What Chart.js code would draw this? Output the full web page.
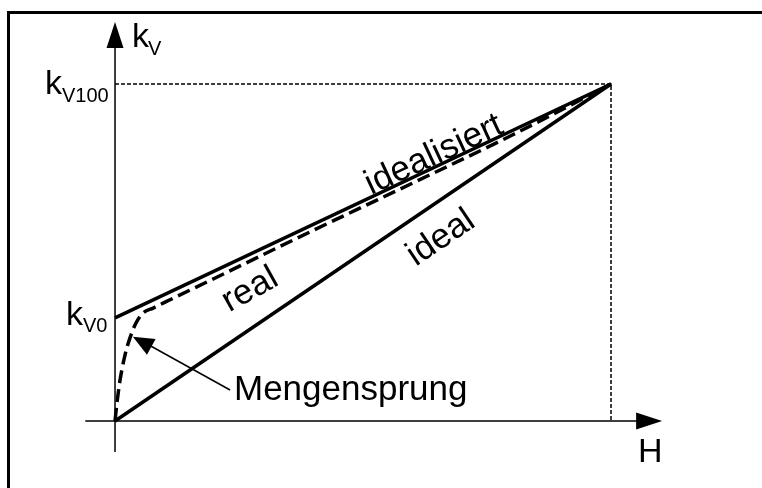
<!DOCTYPE html>
<html>
<head>
<meta charset="utf-8">
<script src="https://cdn.jsdelivr.net/npm/chart.js@4/dist/chart.umd.min.js"></script>
<style>
  html, body { margin: 0; padding: 0; background: #fff; }
  canvas { display: block; }
</style>
</head>
<body>
<canvas id="kv-chart" width="762" height="488"></canvas>
<script>
// Kennlinien kv(H) - Werte in % vom Maximum
const kv0 = 30.6;

const idealH = [0, 100];
const idealKv = [0, 100];

const idealisiertH = [0, 100];
const idealisiertKv = [kv0, 100];

const realH = [0, 0.4, 1, 2, 3, 4.2, 5.6, 7.7, 10, 20, 40, 60, 80, 100];
const realKv = [0, 5.5, 12, 19.5, 24.6, 29, 32, 33.5, 35.2, 42.3, 56.6, 70.6, 84.8, 100];

// dotted helper lines to kv100
const guideH = [0, 100, 100];
const guideKv = [100, 100, 0];

// axis extents (arrow tips)
const axisH = [-6, 110.3];
const axisKv = [-9.2, 118.4];

const FONT = '"Liberation Sans", Arial, sans-serif';

function toPoints(xs, ys) {
  return xs.map((x, i) => ({ x: x, y: ys[i] }));
}

function arrowHead(ctx, tipX, tipY, fromX, fromY, len, half) {
  const a = Math.atan2(tipY - fromY, tipX - fromX);
  ctx.beginPath();
  ctx.moveTo(tipX, tipY);
  ctx.lineTo(tipX - len * Math.cos(a) + half * Math.sin(a), tipY - len * Math.sin(a) - half * Math.cos(a));
  ctx.lineTo(tipX - len * Math.cos(a) - half * Math.sin(a), tipY - len * Math.sin(a) + half * Math.cos(a));
  ctx.closePath();
  ctx.fill();
}

function rotText(ctx, text, x, y, deg) {
  ctx.save();
  ctx.translate(x, y);
  ctx.rotate(deg * Math.PI / 180);
  ctx.fillText(text, 0, 0);
  ctx.restore();
}

const decor = {
  id: 'decor',
  beforeDatasetsDraw(chart) {
    const ctx = chart.ctx;
    const sx = chart.scales.x, sy = chart.scales.y;
    const x0 = sx.getPixelForValue(0), y0 = sy.getPixelForValue(0);
    const xTip = sx.getPixelForValue(axisH[1]);
    const yTip = sy.getPixelForValue(axisKv[1]);

    ctx.save();
    // frame (runs past the right and bottom edge)
    ctx.strokeStyle = '#000';
    ctx.lineWidth = 3;
    ctx.strokeRect(8.5, 12.5, 900, 900);

    // axes
    ctx.lineWidth = 1.5;
    ctx.beginPath();
    ctx.moveTo(sx.getPixelForValue(axisH[0]), y0);
    ctx.lineTo(xTip - 20, y0);
    ctx.moveTo(x0, sy.getPixelForValue(axisKv[0]));
    ctx.lineTo(x0, yTip + 20);
    ctx.stroke();
    ctx.fillStyle = '#000';
    arrowHead(ctx, xTip, y0, x0, y0, 26, 8.5);
    arrowHead(ctx, x0, yTip, x0, y0, 26, 8.5);
    ctx.restore();
  },
  afterDraw(chart) {
    const ctx = chart.ctx;
    const sx = chart.scales.x, sy = chart.scales.y;
    ctx.save();
    ctx.fillStyle = '#000';
    ctx.strokeStyle = '#000';

    // Mengensprung pointer
    const tipX = sx.getPixelForValue(3.6), tipY = sy.getPixelForValue(25);
    const tailX = sx.getPixelForValue(23.2), tailY = sy.getPixelForValue(9.2);
    ctx.lineWidth = 1.5;
    ctx.beginPath();
    ctx.moveTo(tailX, tailY);
    ctx.lineTo(tipX + 12, tipY + 6);
    ctx.stroke();
    arrowHead(ctx, tipX, tipY, tailX, tailY, 21, 9);

    // labels
    ctx.textBaseline = 'alphabetic';
    ctx.textAlign = 'left';
    ctx.font = '34px ' + FONT;
    ctx.fillText('k', 132, 47);
    ctx.fillText('k', 45, 94);
    ctx.fillText('k', 66, 325);
    ctx.fillText('H', 638, 462);
    ctx.font = '35px ' + FONT;
    ctx.fillText('Mengensprung', 234, 400);

    ctx.font = '20px ' + FONT;
    ctx.fillText('V', 148, 55);
    ctx.fillText('V100', 62, 102);
    ctx.fillText('V0', 83, 332);

    ctx.font = '35px ' + FONT;
    ctx.textAlign = 'center';
    ctx.textBaseline = 'middle';
    rotText(ctx, 'idealisiert', 434, 155, -25);
    rotText(ctx, 'real', 250, 290, -29);
    rotText(ctx, 'ideal', 441, 238, -34);
    ctx.restore();
  }
};

new Chart(document.getElementById('kv-chart'), {
  type: 'scatter',
  data: {
    datasets: [
      {
        label: 'guide',
        data: toPoints(guideH, guideKv),
        showLine: true,
        borderColor: '#000',
        borderWidth: 1.5,
        borderDash: [4, 2],
        pointRadius: 0
      },
      {
        label: 'ideal',
        data: toPoints(idealH, idealKv),
        showLine: true,
        borderColor: '#000',
        borderWidth: 3.5,
        pointRadius: 0
      },
      {
        label: 'idealisiert',
        data: toPoints(idealisiertH, idealisiertKv),
        showLine: true,
        borderColor: '#000',
        borderWidth: 3.5,
        pointRadius: 0
      },
      {
        label: 'real',
        data: toPoints(realH, realKv),
        showLine: true,
        borderColor: '#000',
        borderWidth: 3.5,
        borderDash: [13, 6],
        cubicInterpolationMode: 'monotone',
        pointRadius: 0
      }
    ]
  },
  options: {
    responsive: false,
    animation: false,
    devicePixelRatio: 1,
    layout: { padding: 0 },
    plugins: {
      legend: { display: false },
      tooltip: { enabled: false }
    },
    scales: {
      x: { type: 'linear', min: -23.19, max: 130.44, display: false },
      y: { type: 'linear', min: -19.88, max: 124.93, display: false }
    }
  },
  plugins: [decor]
});
</script>
</body>
</html>
